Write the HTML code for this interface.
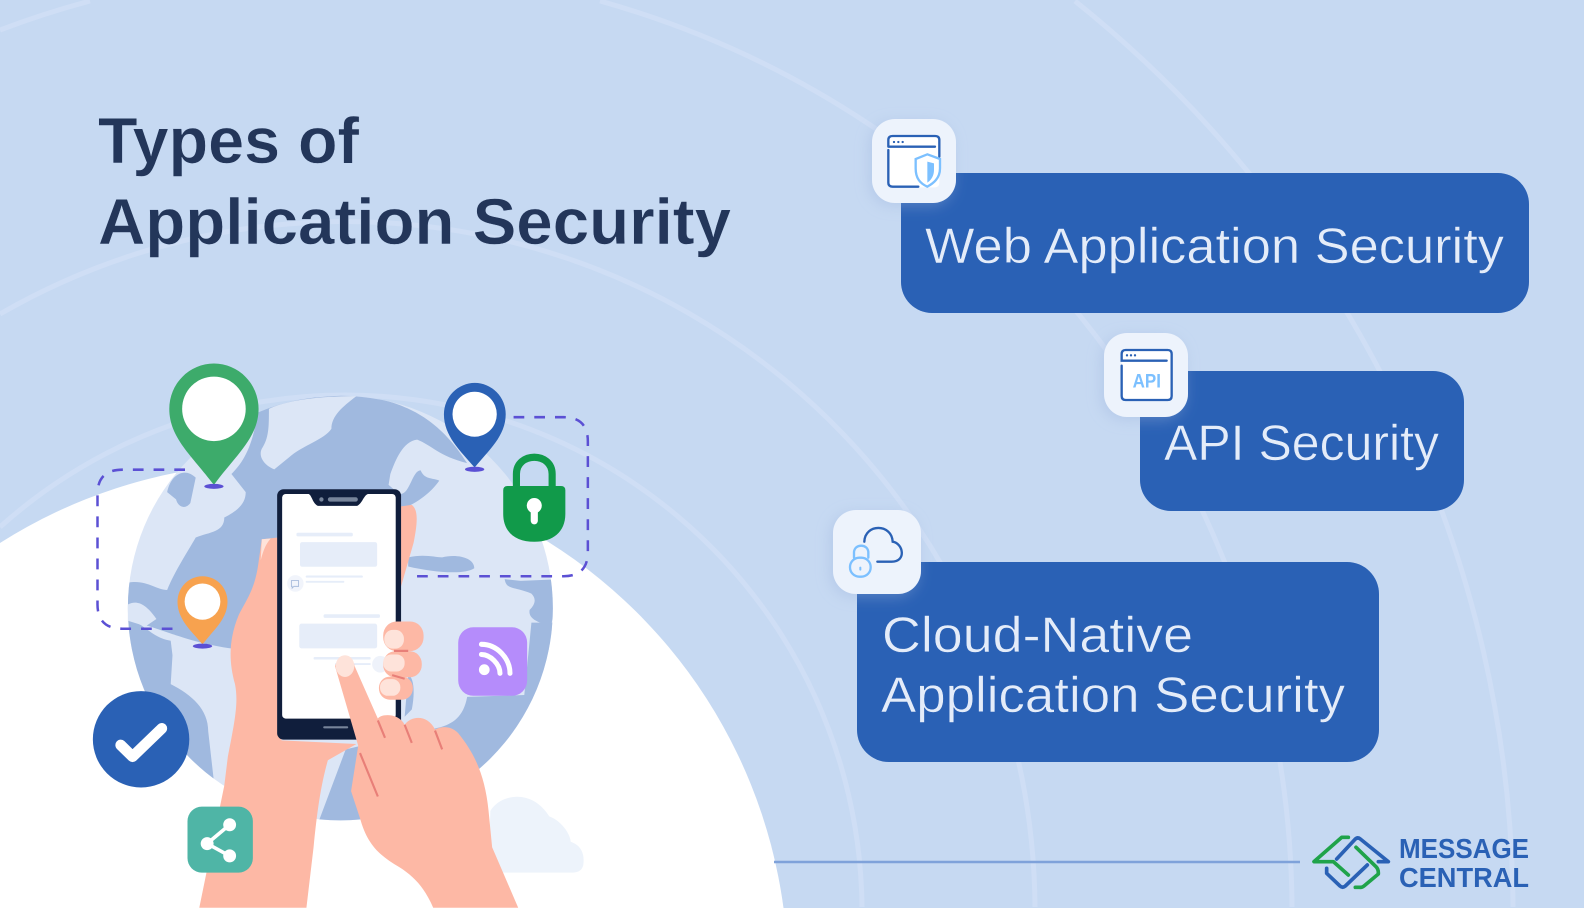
<!DOCTYPE html>
<html lang="en">
<head>
<meta charset="utf-8">
<title>Types of Application Security</title>
<style>
html,body{margin:0;padding:0;width:1584px;height:908px;overflow:hidden;background:#c6d9f2}
svg{display:block}
text{font-family:"Liberation Sans",sans-serif}
</style>
</head>
<body>
<svg xmlns="http://www.w3.org/2000/svg" width="1584" height="908" viewBox="0 0 1584 908">
<defs>
<clipPath id="gl"><ellipse cx="785" cy="740" rx="595" ry="586"/></clipPath>
<filter id="sh" x="-30%" y="-30%" width="160%" height="160%"><feDropShadow dx="-3" dy="3" stdDeviation="7" flood-color="#9db4dc" flood-opacity=".4"/></filter>
</defs>
<rect width="1584" height="908" fill="#c6d9f2"/>
<g fill="none" stroke="#cfdef5" stroke-width="5">
<path d="M0,527A517,517 0 0 1 862,907"/>
<path d="M0,314A690,690 0 0 1 1035,907"/>
<path d="M0,30A947,947 0 0 1 90,1"/>
<path d="M600,1A947,947 0 0 1 1292,907"/>
<path d="M1075,1A1168,1168 0 0 1 1513,907"/>
</g>
<path d="M0,543A513,513 0 0 1 783.5,908H0Z" fill="#fff"/>
<line x1="774" y1="862" x2="1300" y2="862" stroke="#7fa2da" stroke-width="2.5"/>

<text x="98" y="163" font-size="65" font-weight="700" fill="#23365a" stroke="#c6d9f2" stroke-width=".5" textLength="261" lengthAdjust="spacingAndGlyphs">Types of</text>
<text x="98" y="244" font-size="65" font-weight="700" fill="#23365a" stroke="#c6d9f2" stroke-width=".5" textLength="633" lengthAdjust="spacingAndGlyphs">Application Security</text>

<g fill="#2a61b5">
<rect x="901" y="173" width="628" height="140" rx="31"/>
<rect x="1140" y="371" width="324" height="140" rx="31"/>
<rect x="857" y="562" width="522" height="200" rx="32"/>
</g>
<g fill="#e4ecf9" font-size="50" stroke="#2a61b5" stroke-width=".5">
<text x="925" y="263" textLength="579" lengthAdjust="spacingAndGlyphs">Web Application Security</text>
<text x="1164" y="460" textLength="275" lengthAdjust="spacingAndGlyphs">API Security</text>
<text x="882" y="652" textLength="311" lengthAdjust="spacingAndGlyphs">Cloud-Native</text>
<text x="881" y="712" textLength="464" lengthAdjust="spacingAndGlyphs">Application Security</text>
</g>

<g fill="#edf3fc" filter="url(#sh)">
<rect x="872" y="119" width="84" height="84" rx="23"/>
<rect x="1104" y="333" width="84" height="84" rx="23"/>
<rect x="833" y="510" width="88" height="84" rx="23"/>
</g>

<g transform="translate(820,100) scale(.33333)" fill="none" stroke-width="7" stroke-linecap="round">
<rect x="205" y="108" width="153" height="154" rx="12" fill="#fff" stroke="none"/>
<path d="M205,150V248Q205,260 218,260H295M205,140V120Q205,108 218,108H345Q358,108 358,120V170M205,140H345" stroke="#2a61b5"/>
<g fill="#2a61b5"><circle cx="222" cy="126" r="3.5"/><circle cx="235" cy="126" r="3.5"/><circle cx="248" cy="126" r="3.5"/></g>
<path d="M322,163L360,177V205C360,235 340,250 322,260C300,250 287,235 287,205V177Z" fill="#fff" stroke="#7cc0ff"/>
<path d="M322,185L342,190V210C342,225 335,240 322,248Z" fill="#7cc0ff"/>
</g>

<g transform="translate(820,320) scale(.33333)" fill="none" stroke-width="7" stroke-linecap="round">
<rect x="905" y="90" width="150" height="150" rx="12" fill="#fff" stroke="none"/>
<path d="M905,137V228Q905,240 917,240H1043Q1055,240 1055,228V102Q1055,90 1043,90H917Q905,90 905,102V122H1040" stroke="#2a61b5"/>
<g fill="#2a61b5"><circle cx="921" cy="106" r="3.5"/><circle cx="933" cy="106" r="3.5"/><circle cx="945" cy="106" r="3.5"/></g>
<text x="938" y="203" font-size="58" font-weight="700" fill="#7cc0ff" stroke="none" textLength="85" lengthAdjust="spacingAndGlyphs">API</text>
<path d="M133,665C135,610 215,610 218,665C250,670 260,725 215,725H172" stroke="#2a61b5"/>
<path d="M102,713V698C102,670 145,670 145,698V713" stroke="#7cc0ff"/>
<rect x="90" y="713" width="62" height="57" rx="28" stroke="#7cc0ff" fill="#edf3fc"/>
<rect x="118" y="740" width="6" height="12" rx="3" fill="#7cc0ff"/>
</g>

<g transform="translate(1280,810) scale(.33333)" fill="none" stroke-width="11" stroke-linejoin="round" stroke-linecap="round">
<path d="M170,147L225,88Q233,80 241,87L325,155H295" stroke="#2a61b5"/>
<path d="M140,175V190L180,228Q188,235 196,228L262,165" stroke="#2a61b5"/>
<path d="M205,82H185L102,155H160L205,195" stroke="#1fa34a"/>
<path d="M228,112L288,170Q295,177 295,188V192L252,228Q246,233 238,232H226" stroke="#1fa34a"/>
</g>
<g fill="#2a61b5" font-size="28" font-weight="700">
<text x="1399" y="858" textLength="130" lengthAdjust="spacingAndGlyphs">MESSAGE</text>
<text x="1399" y="887" textLength="130" lengthAdjust="spacingAndGlyphs">CENTRAL</text>
</g>

<g transform="translate(60,340) scale(.35714,.3623)">
<path d="M1205,1300C1230,1255 1320,1235 1370,1315C1410,1330 1430,1370 1430,1385C1460,1395 1470,1420 1465,1450C1460,1470 1440,1470 1430,1470H1200Z" fill="#edf3fb"/>
<ellipse cx="785" cy="740" rx="595" ry="586" fill="#dce6f6"/>
<g clip-path="url(#gl)" fill="#a0b9df">
<path d="M555,170L830,150C950,170 1050,200 1140,340C1060,320 1040,290 1000,275C960,280 940,330 925,370L920,400L950,425C980,430 985,360 1010,360C1020,385 1040,380 1062,388C1040,420 1000,450 960,465L940,700L620,870L470,850C400,840 340,820 310,810L250,790L190,775L190,670C240,660 270,690 300,690C320,640 360,580 380,545C420,530 460,530 460,490C500,470 520,450 520,420L480,370C510,340 540,300 555,190Z"/>
<path d="M300,420C310,370 350,350 380,380L365,450C350,470 330,460 325,440Z"/>
<path d="M190,775C240,780 250,820 310,830L315,870L310,950C370,980 415,1020 415,1080L430,1210L200,1210L150,900Z"/>
<path d="M975,600C1020,590 1050,600 1070,600C1110,590 1160,600 1160,630C1130,650 1040,640 975,625Z"/>
<path d="M1245,660C1250,690 1270,680 1320,700C1335,715 1330,730 1315,745C1310,770 1340,780 1375,790L1400,660L1290,665Z"/>
<path d="M1300,980L1140,985C1130,1040 1100,1060 1060,1070L800,1130L720,1340L1000,1340L1400,1000L1400,780L1320,780Z"/>
<path d="M975,925C990,930 995,970 985,1020L965,1040Z"/>
</g>
<path d="M585,190C650,160 760,155 830,155C790,185 760,210 760,245C740,275 680,290 640,325L600,357C570,345 555,320 565,300C585,270 585,240 585,190Z" fill="#dce6f6"/>
<path d="M190,730C210,720 235,720 270,770L240,790L190,775Z" fill="#dce6f6"/>

<path d="M390,1567L460,1230L470,1150C490,1050 500,1000 490,950C470,880 475,820 500,760C520,720 545,690 555,620L565,550L610,545L620,1105L830,1115L750,1160C730,1230 720,1300 710,1400L690,1567Z" fill="#fdb8a5"/>
<path d="M562,608C570,580 575,565 590,548L565,550Z" fill="#fee3da"/>
<path d="M950,460L985,455C1005,470 1000,510 990,560L955,680Z" fill="#fdb8a5"/>

<rect x="608" y="412" width="347" height="691" rx="18" fill="#101e3c"/>
<rect x="622" y="425" width="318" height="620" rx="10" fill="#fff"/>
<path d="M692,424C706,424 704,448 722,458H832C850,448 850,424 868,424Z" fill="#101e3c"/>
<circle cx="732" cy="440" r="6" fill="#77849a"/>
<rect x="750" y="434" width="84" height="12" rx="6" fill="#77849a"/>
<rect x="737" y="1066" width="70" height="6" rx="3" fill="#77849a"/>
<g fill="#e6edf9">
<rect x="662" y="532" width="158" height="10" rx="4"/>
<rect x="672" y="558" width="216" height="68" rx="6"/>
<rect x="688" y="650" width="160" height="6" rx="3"/>
<rect x="688" y="665" width="108" height="5" rx="2"/>
<rect x="738" y="757" width="158" height="10" rx="4"/>
<rect x="670" y="783" width="218" height="68" rx="6"/>
<rect x="710" y="875" width="160" height="7" rx="3"/>
<rect x="770" y="892" width="100" height="5" rx="2"/>
</g>
<circle cx="659" cy="672" r="23" fill="#f1f4fb"/>
<path d="M648,664H668V680H655L650,685V680H648Z" fill="none" stroke="#a9bcdc" stroke-width="2.5"/>
<circle cx="897" cy="895" r="23" fill="#eef2fa"/>

<g fill="#fdb8a5">
<rect x="905" y="777" width="113" height="82" rx="38"/>
<rect x="905" y="859" width="108" height="72" rx="34"/>
<rect x="893" y="929" width="95" height="64" rx="31"/>
</g>
<g fill="#fee3da">
<rect x="908" y="800" width="55" height="52" rx="24"/>
<rect x="905" y="868" width="60" height="47" rx="22"/>
<rect x="896" y="936" width="57" height="46" rx="22"/>
</g>
<path d="M935,858H975M930,925L965,935" stroke="#e87f78" stroke-width="6" fill="none"/>

<path d="M770,900C780,870 820,870 825,900L890,1045C900,1030 950,1030 965,1062C985,1035 1030,1035 1050,1075C1070,1065 1095,1065 1115,1085C1160,1140 1190,1200 1200,1300L1210,1400L1283,1567H1045C1020,1510 990,1480 950,1455C890,1420 860,1390 840,1320L815,1245L835,1120Z" fill="#fdb8a5"/>
<ellipse cx="798" cy="900" rx="26" ry="30" fill="#fee3da"/>
<path d="M890,1050L910,1098M965,1062L985,1112M1050,1078L1070,1130M840,1140L890,1260" stroke="#e87f78" stroke-width="6" fill="none"/>

<g fill="none" stroke="#5b50d4" stroke-width="7" stroke-dasharray="30 28">
<path d="M350,358H175Q105,358 105,425V730Q105,797 175,797H320"/>
<path d="M1270,213H1410Q1478,213 1478,280V585Q1478,652 1410,652H980"/>
</g>

<path d="M431,400C370,320 306,270 306,190A125,125 0 0 1 556,190C556,270 490,320 431,400Z" fill="#3dab6b"/>
<circle cx="431" cy="190" r="89" fill="#fff"/>
<ellipse cx="431" cy="404" rx="27" ry="7" fill="#5b50d4"/>
<path d="M1161,352C1120,305 1075,265 1075,205A86,86 0 0 1 1248,205C1248,265 1200,305 1161,352Z" fill="#2a61b5"/>
<circle cx="1161" cy="205" r="62" fill="#fff"/>
<ellipse cx="1161" cy="357" rx="27" ry="7" fill="#5b50d4"/>
<path d="M399,840C365,800 329,770 329,722A70,70 0 0 1 469,722C469,770 430,800 399,840Z" fill="#f7a24f"/>
<circle cx="399" cy="722" r="50" fill="#fff"/>
<ellipse cx="399" cy="845" rx="27" ry="7" fill="#5b50d4"/>

<path d="M1278,405V370C1278,308 1378,308 1378,370V405" fill="none" stroke="#119a4a" stroke-width="20"/>
<path d="M1241,415Q1241,403 1253,403H1403Q1415,403 1415,415V480C1415,530 1380,557 1328,557C1275,557 1241,530 1241,480Z" fill="#119a4a"/>
<circle cx="1328" cy="457" r="21" fill="#fff"/>
<rect x="1318" y="465" width="20" height="44" rx="10" fill="#fff"/>

<ellipse cx="227" cy="1102" rx="135" ry="133" fill="#2a61b5"/>
<path d="M170,1118L203,1150L285,1072" fill="none" stroke="#fff" stroke-width="30" stroke-linecap="round" stroke-linejoin="round"/>

<rect x="357" y="1288" width="183" height="182" rx="40" fill="#4fb5a6"/>
<path d="M475,1338L412,1390L475,1424" fill="none" stroke="#fff" stroke-width="10"/>
<g fill="#fff"><circle cx="412" cy="1390" r="18"/><circle cx="475" cy="1338" r="18"/><circle cx="475" cy="1424" r="18"/></g>

<rect x="1115" y="793" width="193" height="189" rx="42" fill="#b58cfb"/>
<circle cx="1188" cy="910" r="15" fill="#fff"/>
<path d="M1180,868C1205,868 1232,895 1232,920M1180,840C1225,840 1260,880 1260,920" fill="none" stroke="#fff" stroke-width="14" stroke-linecap="round"/>
</g>
</svg>
</body>
</html>
